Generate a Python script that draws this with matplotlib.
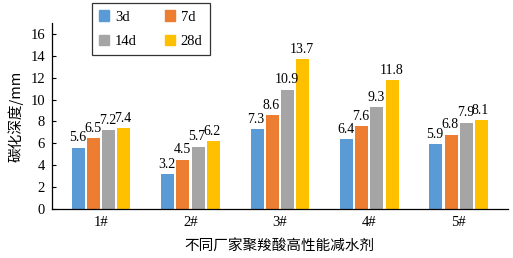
import matplotlib.pyplot as plt
import numpy as np
from matplotlib.patches import Patch

categories = ["1#", "2#", "3#", "4#", "5#"]
series_names = ["3d", "7d", "14d", "28d"]
d3 = [5.6, 3.2, 7.3, 6.4, 5.9]
d7 = [6.5, 4.5, 8.6, 7.6, 6.8]
d14 = [7.2, 5.7, 10.9, 9.3, 7.9]
d28 = [7.4, 6.2, 13.7, 11.8, 8.1]
yticks = [0, 2, 4, 6, 8, 10, 12, 14, 16]
colors = ["#5B9BD5", "#ED7D31", "#A5A5A5", "#FFC000"]

serif = ["Liberation Serif", "DejaVu Serif"]
cjk = ["Noto Sans CJK SC", "DejaVu Sans"]

fig = plt.figure(figsize=(5.13, 2.58), dpi=100)
ax = fig.add_axes([0.101, 0.19, 0.889, 0.721])

x = np.arange(len(categories))
w = 0.145
pitch = 0.17
data = [d3, d7, d14, d28]
for i, (vals, c) in enumerate(zip(data, colors)):
    pos = x + (i - 1.5) * pitch
    ax.bar(pos, vals, width=w, color=c, zorder=2)
    for p, v in zip(pos, vals):
        ax.text(p - 0.01, v + 0.3, f"{v}", ha="center", va="bottom",
                fontsize=10, family=serif)

ax.set_xlim(-0.55, len(categories) - 0.45)
ax.set_ylim(0, 17)
ax.set_yticks(yticks)
ax.set_yticklabels([str(t) for t in yticks], family=serif, fontsize=10.5)
ax.set_xticks(x)
ax.set_xticklabels(categories, family=serif, fontsize=10.5)
ax.tick_params(axis="x", length=0, pad=5)
ax.tick_params(axis="y", direction="in", length=3, pad=5)
for s in ["top", "right"]:
    ax.spines[s].set_visible(False)
for s in ["left", "bottom"]:
    ax.spines[s].set_linewidth(0.9)

ax.set_ylabel("碳化深度/mm", family=cjk, fontsize=10.5, labelpad=5)
ax.set_xlabel("不同厂家聚羧酸高性能减水剂", family=cjk, fontsize=10.5, labelpad=7)

handles = [Patch(color=c) for c in colors]
order = [0, 2, 1, 3]
leg = fig.legend([handles[i] for i in order], [series_names[i] for i in order],
                 ncol=2, loc="upper left", borderaxespad=0,
                 bbox_to_anchor=(0.179, 0.988), frameon=True, fancybox=False,
                 edgecolor="black", prop={"family": serif, "size": 10.5},
                 handlelength=0.7, handleheight=0.7, columnspacing=1.9,
                 labelspacing=0.75, handletextpad=0.4, borderpad=0.5)
leg.get_frame().set_linewidth(0.9)

fig.savefig("out.png", dpi=100)
